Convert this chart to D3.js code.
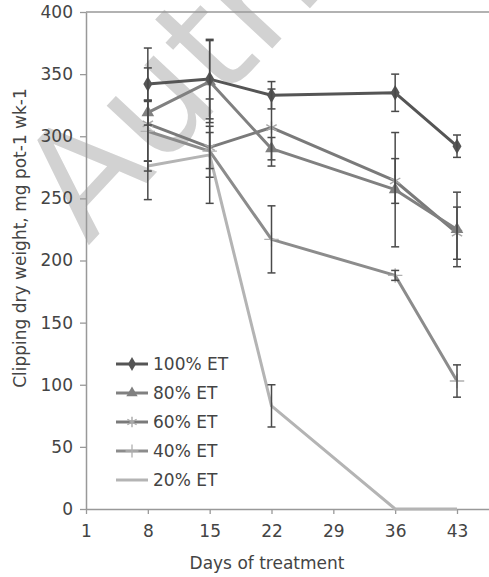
<!DOCTYPE html>
<html>
<head>
<meta charset="utf-8">
<script src="https://cdn.jsdelivr.net/npm/d3@7"></script>
<style>
  html, body { margin: 0; padding: 0; background: #fff; }
  svg { display: block; }
  text { font-family: "DejaVu Sans", sans-serif; }
</style>
</head>
<body>
<svg id="chart" width="489" height="577"></svg>
<script>
// Sampling days and the weekly clipping dry weight (mg pot-1 wk-1) per irrigation level
const days = [8, 15, 22, 36, 43];
const et100 = [342, 346, 333, 335, 292];
const et80  = [319, 344, 290, 257, 225];
const et60  = [310, 291, 307, 264, 222];
const et40  = [304, 288, 217, 188, 103];
const et20  = [276, 285, 83, 0, 0];

// Standard errors
const err100 = [13, 32, 11, 15, 9];
const err80  = [10, 33, 9, 46, 30];
const err60  = [61, 17, 31, 18, 21];
const err40  = [24, 42, 27, 4, 13];
const err20  = [4, 18, 17, 0, 0];

const seriesNames = ["100% ET", "80% ET", "60% ET", "40% ET", "20% ET"];
const xTicks = [1, 8, 15, 22, 29, 36, 43];
const yTicks = [0, 50, 100, 150, 200, 250, 300, 350, 400];

const series = [
  { name: seriesNames[0], values: et100, err: err100, color: "#555555", marker: "diamond" },
  { name: seriesNames[1], values: et80,  err: err80,  color: "#808080", marker: "triangle" },
  { name: seriesNames[2], values: et60,  err: err60,  color: "#7a7a7a", marker: "asterisk" },
  { name: seriesNames[3], values: et40,  err: err40,  color: "#8c8c8c", marker: "plus" },
  { name: seriesNames[4], values: et20,  err: err20,  color: "#b4b4b4", marker: "none" }
];

const svg = d3.select("#chart");

const x = d3.scaleLinear().domain([1, 50]).range([86, 86 + 49 * (371 / 42)]);
const y = d3.scaleLinear().domain([0, 400]).range([509, 12]);

// faint diagonal watermark lettering behind the plot
svg.append("text")
  .attr("transform", "translate(88,246) rotate(-47)")
  .attr("font-family", "Liberation Sans, sans-serif")
  .attr("font-size", 150)
  .attr("fill", "#d2d2d2")
  .text("Author");

// frame: top border
svg.append("line")
  .attr("x1", x(1)).attr("x2", 489)
  .attr("y1", y(400)).attr("y2", y(400))
  .attr("stroke", "#999").attr("stroke-width", 1.5);

// y axis
const yAxis = svg.append("g")
  .attr("transform", `translate(${x(1)},0)`)
  .call(d3.axisLeft(y).tickValues(yTicks).tickSize(6).tickSizeOuter(0).tickPadding(7));

// x axis
const xAxis = svg.append("g")
  .attr("transform", `translate(0,${y(0)})`)
  .call(d3.axisBottom(x).tickValues(xTicks).tickSize(5).tickSizeOuter(0).tickPadding(11));

[yAxis, xAxis].forEach(g => {
  g.select(".domain").attr("stroke", "#999").attr("stroke-width", 1.5);
  g.selectAll(".tick line").attr("stroke", "#999").attr("stroke-width", 1.3);
  g.selectAll(".tick text")
    .attr("font-size", 17)
    .attr("font-family", "DejaVu Sans, sans-serif")
    .attr("fill", "#444");
});

// axis titles
svg.append("text")
  .attr("x", 267).attr("y", 569)
  .attr("text-anchor", "middle")
  .attr("font-size", 17).attr("fill", "#444")
  .text("Days of treatment");

svg.append("text")
  .attr("transform", "translate(26,238) rotate(-90)")
  .attr("text-anchor", "middle")
  .attr("font-size", 17).attr("fill", "#444")
  .text("Clipping dry weight, mg pot-1 wk-1");

const line = d3.line()
  .x((d, i) => x(days[i]))
  .y(d => y(d));

// lines, drawn from the lightest series up
[...series].reverse().forEach(s => {
  svg.append("path")
    .datum(s.values)
    .attr("fill", "none")
    .attr("stroke", s.color)
    .attr("stroke-width", 3)
    .attr("stroke-linejoin", "round")
    .attr("d", line);
});

function drawMarker(g, type, color, cx, cy, scale) {
  const k = scale || 1;
  if (type === "diamond") {
    g.append("path")
      .attr("d", d3.symbol().type(d3.symbolDiamond).size(70 * k)())
      .attr("transform", `translate(${cx},${cy})`)
      .attr("fill", color);
  } else if (type === "triangle") {
    g.append("path")
      .attr("d", d3.symbol().type(d3.symbolTriangle).size(70 * k)())
      .attr("transform", `translate(${cx},${cy})`)
      .attr("fill", color);
  } else if (type === "asterisk") {
    const t = d3.symbolAsterisk || d3.symbolCross;
    g.append("path")
      .attr("d", d3.symbol().type(t).size(100 * k)())
      .attr("transform", `translate(${cx},${cy})`)
      .attr("fill", "none")
      .attr("stroke", "#a8a8a8")
      .attr("stroke-width", 1.4);
  } else if (type === "plus") {
    const t = d3.symbolPlus || d3.symbolCross;
    g.append("path")
      .attr("d", d3.symbol().type(t).size(70 * k)())
      .attr("transform", `translate(${cx},${cy})`)
      .attr("fill", "none")
      .attr("stroke", "#b0b0b0")
      .attr("stroke-width", 1.3);
  }
}

// markers
const markers = svg.append("g");
[...series].reverse().forEach(s => {
  s.values.forEach((v, i) => drawMarker(markers, s.marker, s.color, x(days[i]), y(v)));
});

// error bars
const errG = svg.append("g").attr("stroke", "#4a4a4a").attr("stroke-width", 1.5);
series.forEach(s => {
  s.values.forEach((v, i) => {
    const e = s.err[i];
    if (!e) return;
    const cx = x(days[i]);
    errG.append("line").attr("x1", cx).attr("x2", cx).attr("y1", y(v - e)).attr("y2", y(v + e));
    errG.append("line").attr("x1", cx - 4).attr("x2", cx + 4).attr("y1", y(v - e)).attr("y2", y(v - e));
    errG.append("line").attr("x1", cx - 4).attr("x2", cx + 4).attr("y1", y(v + e)).attr("y2", y(v + e));
  });
});

// legend
const legend = svg.append("g");
const legendY = d3.scalePoint().domain(seriesNames).range([364, 480]);
series.forEach(s => {
  const ly = legendY(s.name);
  legend.append("line")
    .attr("x1", 116).attr("x2", 148).attr("y1", ly).attr("y2", ly)
    .attr("stroke", s.color).attr("stroke-width", 3);
  drawMarker(legend, s.marker, s.color, 132, ly, 0.8);
  legend.append("text")
    .attr("x", 153).attr("y", ly)
    .attr("dy", "0.35em")
    .attr("font-size", 17).attr("fill", "#444")
    .text(s.name);
});
</script>
</body>
</html>
